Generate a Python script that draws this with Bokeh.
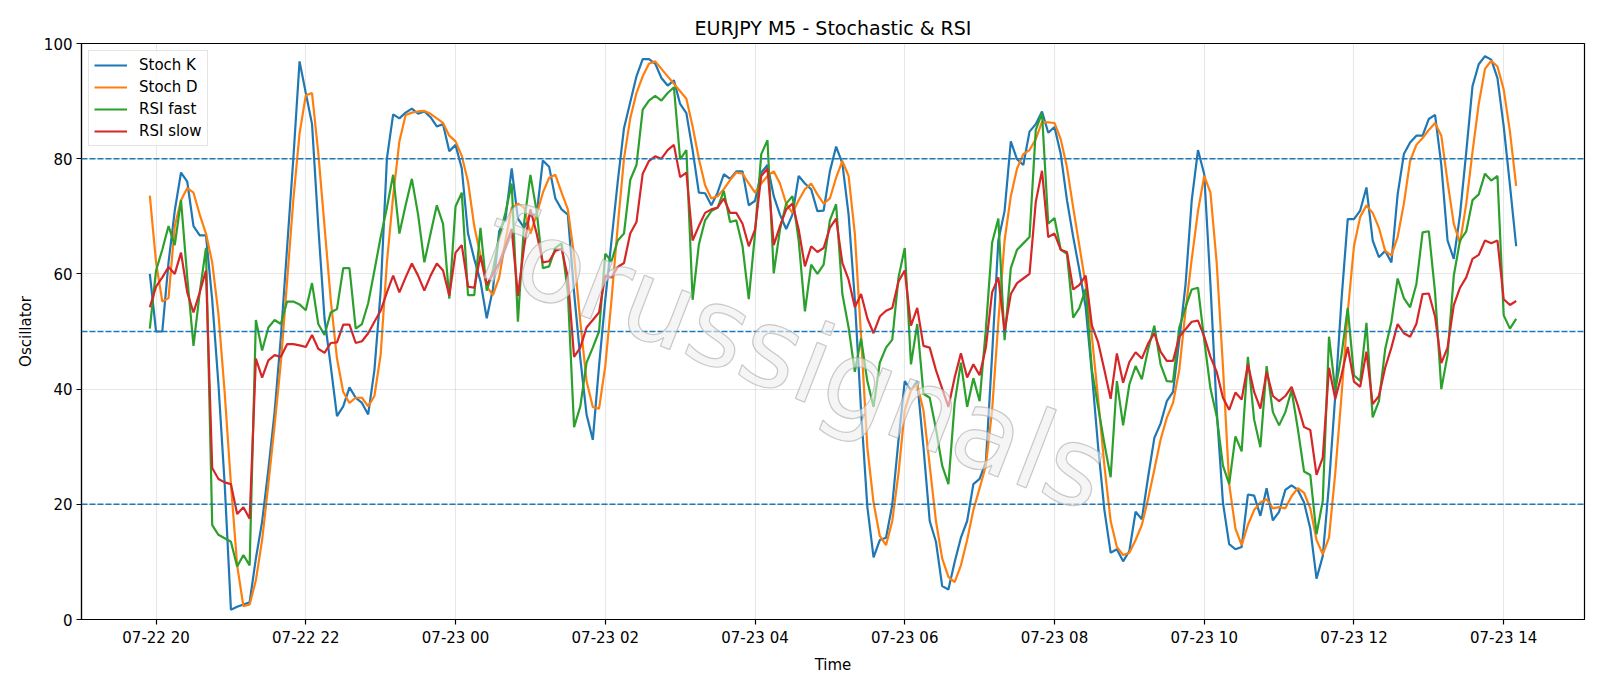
import pandas as pd
from bokeh.plotting import figure
from bokeh.models import Range1d, FixedTicker, DatetimeTickFormatter, Span, Label
from bokeh.embed import file_html
from bokeh.resources import INLINE

start_time = "2025-07-22 19:55"

stoch_k = [60.0, 50, 50, 62, 71, 77.6, 76, 68.3, 66.7, 66.7,
           55.5, 40.8, 23.5, 1.7, 2.2, 2.6, 3, 10.6, 17, 26,
           36, 49, 64.5, 80, 96.9, 91.4, 86, 68.3, 52.3, 44,
           35.3, 37, 40.3, 38.5, 37.6, 35.6, 43.3, 57, 80, 87.7,
           87, 88, 88.7, 87.8, 88.2, 87.2, 85.6, 86, 81.3, 82.4,
           78.3, 67, 62.6, 58.7, 52.3, 57.4, 67.4, 69.6, 78.3, 69.6,
           68, 70.3, 70.3, 79.7, 78.6, 73.1, 71.2, 70.3, 56.8, 45.3,
           35.6, 31.2, 44, 55.5, 65.8, 76, 85.3, 89.8, 94.3, 97.3,
           97.3, 96.5, 94, 92.7, 93.6, 89.5, 87.9, 81.5, 74.1, 74,
           71.9, 74.1, 77.3, 76.5, 77.8, 77.8, 71.9, 72.7, 77.6, 78.9,
           73.5, 70.3, 67.8, 70.3, 77, 75.7, 74.7, 70.9, 71, 77.8,
           82.1, 79.2, 70.3, 55.5, 36.3, 19.6, 10.8, 13.8, 14.2, 19.9,
           31.2, 41.4, 39.8, 41.4, 29.9, 17.1, 13.5, 5.8, 5.2, 10,
           14.2, 17.1, 23.5, 24.4, 27.3, 45.9, 65.8, 70.9, 83, 79.9,
           78.9, 84.7, 86, 88.2, 84.5, 85.5, 80.8, 72.8, 66.4, 60.6,
           54.2, 42.7, 29.9, 19, 11.6, 12.2, 10.1, 11.9, 18.7, 17.4,
           24.7, 31.5, 34, 37.9, 39.5, 48.5, 58.1, 72.8, 81.5, 77.3,
           58.1, 36.3, 20.3, 13.1, 12.2, 12.6, 21.7, 21.5, 18, 22.8,
           17.2, 18.7, 22.5, 23.3, 22.5, 20.3, 15.8, 7.1, 11, 23.5,
           38.8, 55.5, 69.5, 69.5, 71, 75, 65.8, 62.9, 64, 62,
           73.8, 80.8, 82.8, 84, 84, 86.9, 87.6, 78.9, 65.8, 62.6,
           70.3, 81.2, 92.6, 96.4, 97.8, 97.2, 94, 85.6, 75.4, 64.8]

stoch_d = [73.6, 62, 55.2, 55.8, 68.3, 72.8, 74.9, 74.1, 70.3, 67,
           62, 53, 39.4, 23.5, 9.4, 2.3, 2.6, 6.8, 13.8, 23.5,
           33.7, 44.6, 58.7, 72.8, 84.4, 91, 91.4, 81, 68.3, 55.5,
           45.3, 39.5, 37.6, 38.5, 38.5, 37, 38.8, 46, 62, 73.5,
           83, 87.6, 88, 88.2, 88.3, 87.8, 87, 86.2, 84, 83,
           80.5, 76, 68.3, 63.2, 57.8, 56.3, 59.4, 65.8, 71.5, 72.2,
           71.5, 67, 70.3, 74.1, 76.7, 77.2, 74.1, 71.2, 63.2, 51.7,
           41.4, 36.9, 36.6, 44, 55.5, 68.3, 80, 87, 91.4, 94.3,
           96.5, 96.9, 95.6, 94.3, 93, 91.7, 90.4, 85.6, 80, 75.4,
           73.1, 73.5, 74.7, 76.3, 77.6, 77.4, 75.7, 74.1, 75.7, 77,
           77.8, 75.7, 72.2, 70.6, 72.8, 74.7, 75.7, 73.8, 72.2, 73.1,
           76.7, 79.6, 77, 67, 49.1, 29.9, 20.3, 14.5, 12.9, 17.1,
           25.4, 36.3, 39.8, 40.8, 36.3, 26.7, 17.1, 10.6, 7.4, 6.5,
           9.4, 13.8, 19, 22.8, 26.7, 36.3, 51.7, 65.8, 73.5, 78.3,
           80.8, 81.5, 83.4, 86.4, 86.3, 86.2, 83.4, 78.5, 71.5, 64.8,
           58.1, 49.1, 38.2, 26.7, 17.1, 12.6, 11.2, 11.6, 13.8, 16.4,
           20.9, 26, 31.2, 35, 37.6, 43.3, 53.6, 62.6, 70.9, 77,
           74.1, 61.9, 44, 23.5, 15.8, 12.9, 16.4, 19, 20.3, 20.9,
           19.3, 19.5, 19.3, 21.4, 22.8, 22, 19.3, 13.8, 11.3, 14.2,
           25.4, 38.8, 53.3, 64.8, 69.9, 71.9, 70.6, 68, 64, 63.2,
           66.4, 72.2, 79.6, 82.4, 83.6, 85, 86.2, 84, 76, 68.7,
           65.4, 72.2, 81.2, 89.5, 95.6, 97, 96, 92, 84.7, 75.3]

rsi_fast = [50.5, 60.6, 64.2, 68.3, 65, 72.8, 59.4, 47.5, 56.8, 64.5,
            16.4, 14.7, 14.1, 13.5, 9.2, 11.2, 9.4, 52, 46.7, 50.7,
            52, 51.3, 55.2, 55.2, 54.7, 53.7, 58.4, 51.3, 49.4, 53.3,
            53.9, 61, 61, 50.5, 51.3, 54.9, 60.6, 66.4, 71.5, 77.2,
            67, 71.9, 76.5, 70.3, 62, 67, 71.9, 68.7, 55.7, 71.7,
            74.1, 56.3, 56.3, 68, 57.1, 60.6, 66.4, 70.6, 75.7, 51.7,
            69, 77.2, 70.9, 61, 61.3, 64.5, 65.3, 56.8, 33.4, 37,
            44.6, 47.2, 50, 63.5, 62.2, 65.8, 67, 76.3, 78.9, 88.5,
            90.1, 90.9, 90.1, 91.4, 92.4, 79.9, 81.5, 55.5, 65.1, 69.3,
            70.9, 71.5, 74.4, 69, 69.3, 64.8, 55.6, 67, 80.8, 83.2,
            60.1, 67.7, 72.2, 73.5, 65.8, 53.5, 61.6, 60, 61.6, 69.3,
            72.1, 56.5, 50.7, 43, 48.8, 41.4, 36.9, 44.6, 47.2, 48.6,
            59.4, 64.5, 44.3, 51.3, 39.2, 38.5, 33.1, 26.7, 23.5, 37.6,
            44.6, 36.9, 41.9, 37.9, 50.4, 65.4, 69.6, 48.5, 61, 64.2,
            65.3, 66.4, 85, 87.9, 68.7, 69.7, 64.2, 63.5, 52.4, 54.1,
            57.4, 43.3, 36.9, 30.5, 24.7, 41.4, 33.7, 40.8, 44, 41.7,
            46.9, 51, 44.3, 41.4, 41.3, 50.7, 54.2, 57.3, 57.6, 48.5,
            40.1, 35.3, 26.7, 23.5, 31.8, 29.2, 45.6, 34.7, 29.9, 44,
            36, 33.7, 36, 39.8, 33.1, 25.7, 25.1, 14.8, 20.6, 49.1,
            39.8, 45.9, 54.1, 42.4, 41.4, 51.5, 35.1, 37.9, 46.9, 51.7,
            59.2, 55.8, 54.2, 58.2, 67.2, 67.4, 56.8, 40, 45.9, 59.7,
            65.8, 67.4, 72.8, 73.8, 77.4, 76.2, 77, 52.8, 50.5, 52.2]

rsi_slow = [54.2, 57.8, 59.4, 61.2, 60, 63.7, 56.8, 53.3, 56.8, 60.6,
            26.3, 24.4, 23.8, 23.5, 18.3, 19.5, 17.5, 45.3, 42, 45,
            45.9, 45.6, 47.8, 47.8, 47.6, 47.3, 49.4, 47, 46.3, 48,
            48.1, 51.2, 51.2, 48, 48.3, 49.7, 51.7, 53.6, 56.8, 59.7,
            56.8, 59.4, 61.8, 59.7, 57.1, 59.7, 61.8, 60.6, 56.2, 63.7,
            65, 57.8, 57.6, 63.2, 58.1, 60, 61.9, 64.8, 67.8, 56.2,
            64.8, 71.2, 67, 62, 62.2, 64, 64.4, 59.4, 45.6, 47.2,
            50.7, 52, 53.3, 59.7, 59.4, 61.2, 61.9, 67, 69, 77.4,
            79.6, 80.4, 80, 81.5, 82.4, 76.8, 77.6, 65.8, 68.3, 70.6,
            71.2, 71.5, 73.1, 70.6, 70.6, 68.7, 64.8, 67.7, 77, 78.3,
            65, 68.3, 71.2, 72.2, 67.7, 61.3, 64.8, 63.8, 64.5, 68,
            69.6, 61.9, 59, 54.2, 56.5, 52.3, 49.7, 52.6, 53.6, 54.1,
            58.7, 60.6, 51, 54.1, 47.5, 47.2, 43.3, 40.1, 36.9, 42,
            46.2, 42, 44.3, 42.4, 47.2, 56.8, 59.4, 50.1, 56.5, 58.4,
            59.2, 60, 72.5, 77.9, 66.4, 67, 64.2, 63.8, 57.3, 58.1,
            59.7, 51, 48.1, 43.3, 38.3, 46.2, 41.1, 44.7, 46.4, 45.3,
            47.9, 49.7, 46.5, 44.9, 44.9, 49.1, 50.4, 51.7, 51.9, 49.1,
            45.6, 43, 38.5, 36.4, 39.4, 38.2, 44.3, 39.5, 36.6, 43,
            38.8, 37.9, 38.8, 40.4, 37.2, 33.4, 32.9, 25.1, 28.1, 43.7,
            38.3, 42.4, 47.3, 41.3, 40.4, 46.5, 37.4, 38.8, 43.7, 47.2,
            51.3, 49.7, 49.1, 51.3, 56.5, 56.6, 52.6, 44.5, 47.2, 54.6,
            57.6, 59.4, 62.6, 63.3, 65.8, 65.3, 65.8, 55.6, 54.6, 55.3]

levels = [80, 50, 20]
y_ticks = [0, 20, 40, 60, 80, 100]
x_tick_times = ["2025-07-22 20:00", "2025-07-22 22:00", "2025-07-23 00:00",
                "2025-07-23 02:00", "2025-07-23 04:00", "2025-07-23 06:00",
                "2025-07-23 08:00", "2025-07-23 10:00", "2025-07-23 12:00",
                "2025-07-23 14:00"]

series = [("Stoch K", stoch_k, "#1f77b4"),
          ("Stoch D", stoch_d, "#ff7f0e"),
          ("RSI fast", rsi_fast, "#2ca02c"),
          ("RSI slow", rsi_slow, "#d62728")]

times = pd.date_range(start_time, periods=len(stoch_k), freq="5min")
epoch = pd.Timestamp("1970-01-01")
ms = lambda t: (pd.Timestamp(t) - epoch) / pd.Timedelta("1ms")
t0, t1 = ms(times[0]), ms(times[-1])
pad = 0.05 * (t1 - t0)

FONT = "DejaVu Sans"

p = figure(width=1600, height=686, x_axis_type="datetime",
           output_backend="svg", toolbar_location=None,
           x_range=Range1d(t0 - pad, t1 + pad), y_range=Range1d(0, 100),
           min_border_left=81, min_border_right=16,
           min_border_top=43, min_border_bottom=67,
           background_fill_color="white", border_fill_color="white")

for name, vals, col in series:
    p.line(times, vals, line_color=col, line_width=2.2, legend_label=name)

for lv in levels:
    p.add_layout(Span(location=lv, dimension="width", line_color="#1f77b4",
                      line_width=1.5, line_dash="6 2"))

# watermark
p.add_layout(Label(x=t0 + (t1 - t0) * 0.472, y=45.5, text="forussignals",
                   angle=-0.37, text_font=FONT, text_font_size="110px",
                   text_color="#eeeeee", text_alpha=0.6,
                   text_outline_color="#a8a8a8",
                   text_align="center", text_baseline="middle"))

p.title.text = "EURJPY M5 - Stochastic & RSI"
p.title.align = "center"
p.title.text_font = FONT
p.title.text_font_size = "19px"
p.title.text_font_style = "normal"
p.title.text_color = "black"
p.title.standoff = 9

p.xaxis.ticker = FixedTicker(ticks=[ms(t) for t in x_tick_times])
fmt = "%m-%d %H"
p.xaxis.formatter = DatetimeTickFormatter(milliseconds=fmt, seconds=fmt, minsec=fmt,
                                          minutes=fmt, hourmin=fmt, hours=fmt,
                                          days=fmt, months=fmt, years=fmt)
p.yaxis.ticker = FixedTicker(ticks=y_ticks)

for ax in (p.xaxis, p.yaxis):
    ax.axis_label_text_font = FONT
    ax.axis_label_text_font_size = "15px"
    ax.axis_label_text_font_style = "normal"
    ax.axis_label_text_color = "black"
    ax.major_label_text_font = FONT
    ax.major_label_text_font_size = "15px"
    ax.major_label_text_color = "black"
    ax.axis_line_color = "black"
    ax.axis_line_width = 1.2
    ax.major_tick_line_color = "black"
    ax.major_tick_line_width = 1.2
    ax.major_tick_out = 5
    ax.major_tick_in = 0
    ax.minor_tick_line_color = None
    ax.major_label_standoff = 4

p.xaxis.axis_label = "Time"
p.yaxis.axis_label = "Oscillator"
p.xaxis.axis_label_standoff = 6
p.yaxis.axis_label_standoff = 6

p.grid.grid_line_color = "#b0b0b0"
p.grid.grid_line_alpha = 0.3
p.grid.grid_line_width = 1.1

p.outline_line_color = "black"
p.outline_line_width = 1.2
p.outline_line_alpha = 1.0

lg = p.legend[0]
lg.location = "top_left"
lg.margin = 7
lg.padding = 5
lg.spacing = 4
lg.label_height = 18
lg.glyph_height = 18
lg.glyph_width = 33
lg.label_standoff = 12
lg.label_text_font = FONT
lg.label_text_font_size = "15px"
lg.label_text_color = "black"
lg.border_line_color = "#cccccc"
lg.border_line_width = 1
lg.background_fill_color = "white"
lg.background_fill_alpha = 0.8

open("out.html", "w").write(file_html(p, INLINE))
